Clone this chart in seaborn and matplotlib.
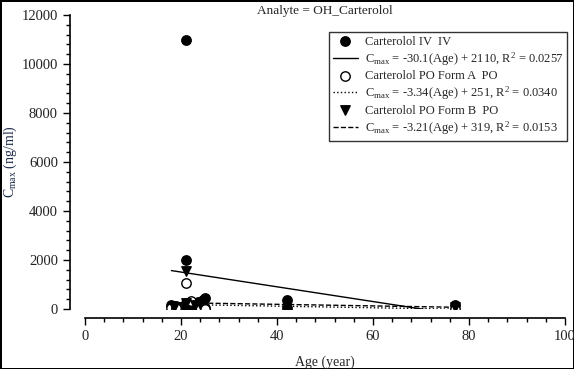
import numpy as np
import pandas as pd
import matplotlib
matplotlib.use("Agg")
import matplotlib.pyplot as plt
import seaborn as sns

# Carterolol IV (filled circles)
iv_age = [18, 18.5, 19, 21, 21, 21, 21, 21.5, 22, 23, 23.5, 24, 24, 24.5, 25, 25, 42, 42, 77]
iv_cmax = [150, 120, 130, 11000, 2000, 250, 100, 50, 200, 150, 300, 250, 80, 350, 450, 30, 380, 60, 160]
# Carterolol PO Form A (open circles)
poa_age = [18, 19, 21, 22, 24, 25, 77]
poa_cmax = [30, 40, 1050, 320, 80, 20, 10]
# Carterolol PO Form B (down triangles)
pob_age = [18.5, 21, 21, 23, 24, 77]
pob_cmax = [100, 1550, 250, 150, 200, 100]

# regression coefficients
fit_slope = [-30.1, -3.34, -3.21]
fit_icept = [2110, 251, 319]
fit_r2 = ["0.0257", "0.0340", "0.0153"]
fit_range = [(18, 77), (18, 77), (18, 77)]

sns.set_theme(style="ticks")
plt.rcParams["font.family"] = ["Liberation Serif", "DejaVu Serif"]
plt.rcParams["mathtext.fontset"] = "custom"
plt.rcParams["mathtext.rm"] = "Liberation Serif"
plt.rcParams["mathtext.it"] = "Liberation Serif:italic"

df = pd.concat([
    pd.DataFrame({"age": iv_age, "cmax": iv_cmax, "grp": "Carterolol IV  IV"}),
    pd.DataFrame({"age": poa_age, "cmax": poa_cmax, "grp": "Carterolol PO Form A  PO"}),
    pd.DataFrame({"age": pob_age, "cmax": pob_cmax, "grp": "Carterolol PO Form B  PO"}),
], ignore_index=True)

fig = plt.figure(figsize=(5.74, 3.69), dpi=100)
fig.patch.set_edgecolor("black")
fig.patch.set_linewidth(2)
ax = fig.add_axes([85 / 574, 1 - 309 / 369, 480 / 574, 294 / 369])

groups = ["Carterolol IV  IV", "Carterolol PO Form A  PO", "Carterolol PO Form B  PO"]
markers = ["o", "o", "v"]
faces = ["black", "white", "black"]
styles = ["-", ":", "--"]

handles = []
labels = []
for i, g in enumerate(groups):
    sub = df[df["grp"] == g]
    sc = ax.scatter(sub["age"], sub["cmax"], marker=markers[i], s=46,
                    facecolor=faces[i], edgecolor="black", linewidth=1, zorder=3)
    xs = np.array(fit_range[i], dtype=float)
    ys = fit_slope[i] * xs + fit_icept[i]
    ln, = ax.plot(xs, ys, color="black", linestyle=styles[i], linewidth=1, zorder=2)
    handles += [sc, ln]
    labels += [g, r"C$_{\mathrm{max}}$ = %s(Age) + %d, R$^{2}$ = %s" % (fit_slope[i], fit_icept[i], fit_r2[i])]

ax.set_xlim(0, 100)
ax.set_ylim(0, 12000)
ax.set_xticks(np.arange(0, 101, 20))
ax.set_xticks(np.arange(0, 101, 4), minor=True)
ax.set_yticks(np.arange(0, 12001, 2000))
ax.set_yticks(np.arange(0, 12001, 400), minor=True)

for s in ["top", "right"]:
    ax.spines[s].set_visible(False)
ax.spines["left"].set_position(("outward", 11))
ax.spines["bottom"].set_position(("outward", 6.5))
for s in ["left", "bottom"]:
    ax.spines[s].set_color("black")
    ax.spines[s].set_linewidth(1.2)

ax.tick_params(which="major", length=5, width=1, color="black", labelsize=10.5, labelcolor="#222222")
ax.tick_params(which="minor", length=3, width=1, color="black")
ax.set_facecolor("white")

ax.set_xlabel("Age (year)", fontsize=10, labelpad=9)
ax.set_ylabel(r"C$_{\mathrm{max}}$ (ng/ml)", fontsize=10, color="#1c2a4a")
ax.yaxis.set_label_coords(-0.138, 0.5)
ax.set_title("Analyte = OH_Carterolol", fontsize=9.5, pad=0, y=1.004)

leg = ax.legend(handles, labels, loc="upper right", bbox_to_anchor=(1.004, 0.943),
                fontsize=9, frameon=True, fancybox=False, borderpad=0.3,
                labelspacing=0.2, handlelength=2.0, handletextpad=0.55,
                borderaxespad=0)
leg.get_frame().set_edgecolor("black")
leg.get_frame().set_linewidth(1)

fig.savefig("out.png", dpi=100)
